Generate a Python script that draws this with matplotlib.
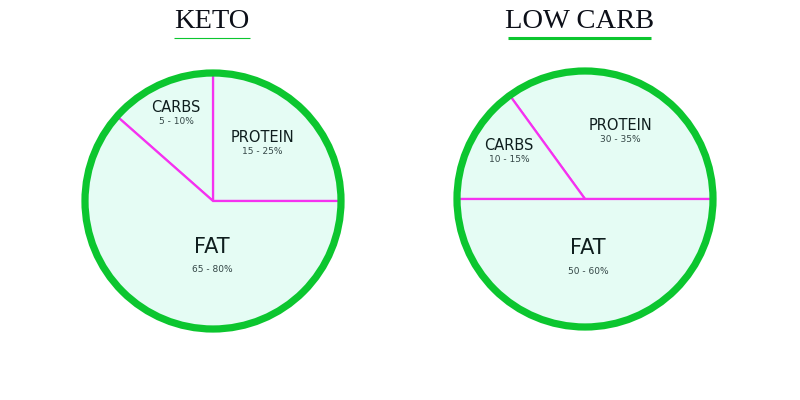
import matplotlib
matplotlib.use("Agg")
import matplotlib.pyplot as plt
from matplotlib.patches import Circle

# data
titles = ["KETO", "LOW CARB"]
names = ["PROTEIN", "CARBS", "FAT"]
keto_sizes = [25, 13.5, 61.5]
low_sizes = [35, 15, 50]
keto_ranges = ["15 - 25%", "5 - 10%", "65 - 80%"]
low_ranges = ["30 - 35%", "10 - 15%", "50 - 60%"]

fill = "#e5fcf4"
green = "#0cc62f"
magenta = "#f532f0"
dark = "#0f1e1e"
grey = "#344646"

fig = plt.figure(figsize=(8, 4), dpi=100)
ax = fig.add_axes([0, 0, 1, 1])
ax.set_xlim(0, 800)
ax.set_ylim(0, 400)
ax.set_aspect("equal")
ax.axis("off")

H = 400
charts = [
    (keto_sizes, keto_ranges, (213, H - 201), 128,
     [(176, 108), (262, 137), (212, 247)], (212, 21), (174, 250), 0.8),
    (low_sizes, low_ranges, (585, H - 199), 128,
     [(620, 126), (509, 146), (588, 248)], (580, 21), (508, 651), 2.2),
]

for i, (sizes, ranges, c, r, lab, tpos, uline, ulw) in enumerate(charts):
    ax.pie(sizes, center=c, radius=r, startangle=0, counterclock=True,
           colors=[fill] * 3,
           wedgeprops=dict(edgecolor=magenta, linewidth=1.6), frame=True)
    ax.add_patch(Circle(c, r, fill=False, edgecolor=green, linewidth=5.2, zorder=5))
    # labels: order carbs, protein, fat by position list
    order = [1, 0, 2] if i == 0 else [0, 1, 2]
    for k, idx in enumerate(order):
        x, y = lab[k]
        big = names[idx] == "FAT"
        ax.text(x, H - y, names[idx], ha="center", va="center",
                fontsize=15 if big else 10.5, color=dark, family="DejaVu Sans")
        ax.text(x, H - y - (23 if big else 14), ranges[idx], ha="center", va="center",
                fontsize=6.5, color=grey, family="DejaVu Sans")
    ax.text(tpos[0], H - tpos[1], titles[i], ha="center", va="center",
            fontsize=20.5, color="#0c0f18", family="Liberation Serif")
    ax.plot(uline, [H - 37.5, H - 37.5], color=green, lw=ulw, solid_capstyle="butt")

ax.set_xlim(0, 800)
ax.set_ylim(0, 400)
fig.savefig("out.png", dpi=100, facecolor="white")
